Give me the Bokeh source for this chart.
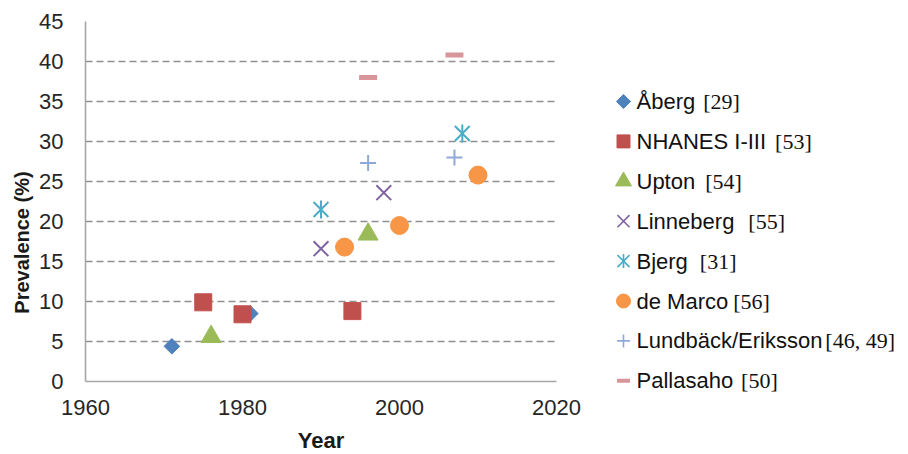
import math
from bokeh.plotting import figure
from bokeh.models import Range1d, FixedTicker
from bokeh.layouts import row, column
from bokeh.embed import file_html
from bokeh.resources import INLINE
from bokeh.core.properties import value

# ---------------- data ----------------
series_names = ["Åberg", "NHANES I-III", "Upton", "Linneberg", "Bjerg",
                "de Marco", "Lundbäck/Eriksson", "Pallasaho"]
series_refs = ["[29]", "[53]", "[54]", "[55]", "[31]", "[56]", "[46, 49]", "[50]"]

aberg_year = [1971, 1981]
aberg_prev = [4.4, 8.5]
nhanes_year = [1975, 1980, 1994]
nhanes_prev = [9.9, 8.4, 8.8]
upton_year = [1976, 1996]
upton_prev = [5.6, 18.4]
linneberg_year = [1990, 1998]
linneberg_prev = [16.6, 23.6]
bjerg_year = [1990, 2008]
bjerg_prev = [21.5, 31.0]
demarco_year = [1993, 2000, 2010]
demarco_prev = [16.8, 19.5, 25.8]
lundback_year = [1996, 2007]
lundback_prev = [27.3, 28.0]
pallasaho_year = [1996, 2007]
pallasaho_prev = [38.0, 40.8]

x_ticks = [1960, 1980, 2000, 2020]
y_ticks = [0, 5, 10, 15, 20, 25, 30, 35, 40, 45]
x_title = "Year"
y_title = "Prevalence (%)"

years = [aberg_year, nhanes_year, upton_year, linneberg_year, bjerg_year,
         demarco_year, lundback_year, pallasaho_year]
prevs = [aberg_prev, nhanes_prev, upton_prev, linneberg_prev, bjerg_prev,
         demarco_prev, lundback_prev, pallasaho_prev]

# ---------------- styles ----------------
styles = [
    dict(marker="square", color="#4F81BD", size=11, lsize=10, angle=math.pi / 4, lw=1, filled=True),
    dict(marker="square", color="#C0504D", size=17, lsize=13, angle=0, lw=1, filled=True),
    dict(marker="triangle", color="#9BBB59", size=20, lsize=16, angle=0, lw=1, filled=True),
    dict(marker="x", color="#8064A2", size=21, lsize=17, angle=0, lw=2, filled=False),
    dict(marker="x", color="#4BACC6", size=21, lsize=17, angle=0, lw=2, filled=False),
    dict(marker="circle", color="#F79646", size=18, lsize=14, angle=0, lw=1, filled=True),
    dict(marker="cross", color="#8EA9D8", size=16, lsize=13, angle=0, lw=2, filled=False),
    dict(marker="dash", color="#D9969A", size=18, lsize=13, angle=0, lw=5, filled=False),
]
ref_gaps = [8, 9, 10, 14, 12, 5, 3, 8]

SANS = "Liberation Sans"
SERIF = "Liberation Serif"
H = 453


def blank_panel(w, h):
    f = figure(width=w, height=h, x_range=Range1d(0, w), y_range=Range1d(h, 0),
               output_backend="svg", toolbar_location=None, x_axis_type=None, y_axis_type=None,
               min_border_left=0, min_border_right=0, min_border_top=0, min_border_bottom=0)
    f.outline_line_color = None
    f.xgrid.grid_line_color = None
    f.ygrid.grid_line_color = None
    return f


# ---------------- y title panel ----------------
W_TITLE = 34
pt = blank_panel(W_TITLE, H)
pt.text(x=[21], y=[242], text=[y_title], angle=math.pi / 2, text_align="center",
        text_baseline="middle", text_font=value(SANS), text_font_style="bold",
        text_font_size="20px", text_color="#1a1a1a")

# ---------------- main plot ----------------
W_MAIN = 588 - W_TITLE
TOP, FRAME_H, BOTTOM = 21, 360, 46
H_MAIN = TOP + FRAME_H + BOTTOM
p = figure(width=W_MAIN, height=H_MAIN, x_range=Range1d(1960, 2020), y_range=Range1d(0, 45),
           output_backend="svg", toolbar_location=None,
           min_border_left=85 - W_TITLE, min_border_right=32, min_border_top=TOP,
           min_border_bottom=BOTTOM)
p.outline_line_color = None

p.xgrid.grid_line_color = None
p.ygrid.grid_line_color = "#8f8f8f"
p.ygrid.grid_line_dash = "7 4"
p.ygrid.grid_line_width = 1.6
p.ygrid.ticker = FixedTicker(ticks=y_ticks)

for ax, ticks in ((p.xaxis, x_ticks), (p.yaxis, y_ticks)):
    ax.ticker = FixedTicker(ticks=ticks)
    ax.axis_line_color = "#a6a6a6"
    ax.axis_line_width = 1.6
    ax.major_tick_line_color = None
    ax.minor_tick_line_color = None
    ax.major_tick_out = 0
    ax.major_tick_in = 0
    ax.major_label_text_font = SANS
    ax.major_label_text_font_size = "22px"
    ax.major_label_text_color = "#262626"
p.xaxis.major_label_standoff = 18
p.yaxis.major_label_standoff = 22

for yr, pv, st in zip(years, prevs, styles):
    if st["filled"]:
        p.scatter(yr, pv, marker=st["marker"], size=st["size"], angle=st["angle"],
                  fill_color=st["color"], line_color=st["color"], line_width=st["lw"])
    else:
        p.scatter(yr, pv, marker=st["marker"], size=st["size"], angle=st["angle"],
                  fill_color=None, line_color=st["color"], line_width=st["lw"])
        if st["color"] == "#4BACC6":
            # vertical stroke of the asterisk
            p.scatter(yr, pv, marker="dash", size=18, angle=math.pi / 2,
                      line_color=st["color"], line_width=st["lw"])

# ---------------- x title panel (below the main plot) ----------------
H_YEAR = H - H_MAIN
px = blank_panel(W_MAIN, H_YEAR)
px.text(x=[(85 + 556) / 2 - W_TITLE], y=[H_YEAR / 2], text=[x_title], text_align="center",
        text_baseline="middle", text_font=value(SANS), text_font_style="bold",
        text_font_size="22px", text_color="#1a1a1a")

# ---------------- legend panel ----------------
W_LEG = 318
pl = blank_panel(W_LEG, H)

SANS_W = {"A": 667, "B": 667, "E": 667, "H": 722, "I": 278, "L": 556, "M": 833, "N": 722,
          "P": 667, "S": 667, "U": 722, "Å": 667, "a": 556, "b": 556, "c": 500, "d": 556,
          "e": 556, "g": 556, "h": 556, "i": 222, "j": 222, "k": 500, "l": 222, "n": 556,
          "o": 556, "p": 556, "r": 333, "s": 500, "t": 278, "u": 556, "ä": 556, " ": 278,
          "-": 333, "/": 278}
NAME_FS = 22
REF_FS = 22


def text_width(s, fs):
    return sum(SANS_W.get(ch, 556) for ch in s) * fs / 1000.0


LEG_X0 = 588
marker_x = 623 - LEG_X0
name_x = 636 - LEG_X0
row0 = 101
step = 39.9
n = len(series_names)
centers = [row0 + i * step for i in range(n)]
ref_x = [name_x + text_width(nm, NAME_FS) + g for nm, g in zip(series_names, ref_gaps)]

for i, st in enumerate(styles):
    if st["filled"]:
        pl.scatter([marker_x], [centers[i]], marker=st["marker"], size=st["lsize"], angle=st["angle"],
                   fill_color=st["color"], line_color=st["color"], line_width=1)
    else:
        pl.scatter([marker_x], [centers[i]], marker=st["marker"], size=st["lsize"], angle=st["angle"],
                   fill_color=None, line_color=st["color"],
                   line_width=4 if st["marker"] == "dash" else 1.6)
        if st["color"] == "#4BACC6":
            pl.scatter([marker_x], [centers[i]], marker="dash", size=14, angle=math.pi / 2,
                       line_color=st["color"], line_width=1.6)

pl.text(x=[name_x] * n, y=centers, text=series_names, text_font=value(SANS),
        text_font_size=f"{NAME_FS}px", text_baseline="middle", text_align="left",
        text_color="#111111")
pl.text(x=ref_x, y=centers, text=series_refs, text_font=value(SERIF),
        text_font_size=f"{REF_FS}px", text_baseline="middle", text_align="left",
        text_color="#111111")

# wrap side panels so their frames are not aligned with the main plot's frame
layout = row(column(pt), column(p, column(px), spacing=0), column(pl), spacing=0)
open("out.html", "w").write(file_html(layout, INLINE))
